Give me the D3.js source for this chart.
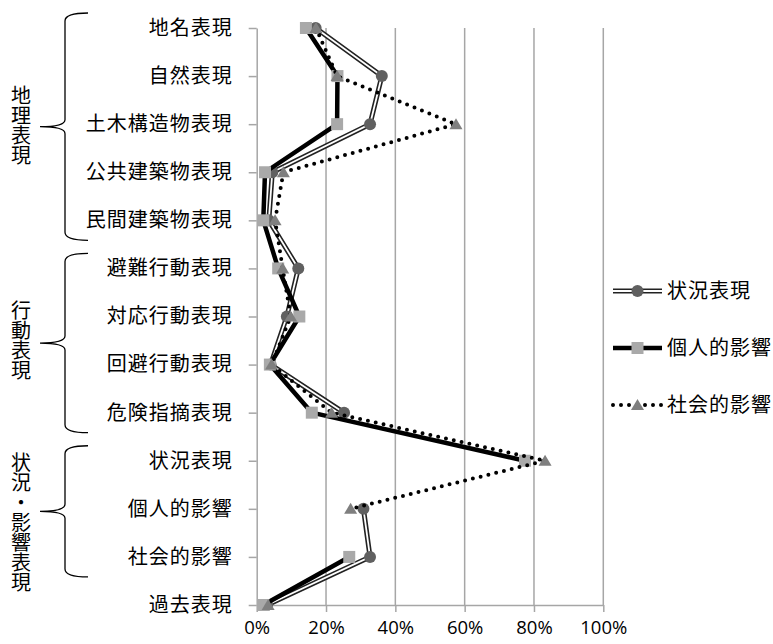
<!DOCTYPE html>
<html><head><meta charset="utf-8">
<script src="https://cdn.jsdelivr.net/npm/d3@7"></script>
<style>html,body{margin:0;padding:0;background:#fff;}</style>
</head><body>
<svg id="chart" width="773" height="644"></svg>
<script>
const categories = ["地名表現","自然表現","土木構造物表現","公共建築物表現","民間建築物表現","避難行動表現","対応行動表現","回避行動表現","危険指摘表現","状況表現","個人的影響","社会的影響","過去表現"];
const seriesNames = ["状況表現","個人的影響","社会的影響"];
const situationValues = [0.17,0.361,0.327,0.045,0.035,0.12,0.087,0.04,0.252,null,0.308,0.327,0.03];
const personalValues  = [0.142,0.233,0.232,0.024,0.019,0.062,0.123,0.038,0.159,0.774,null,0.267,0.019];
const socialValues    = [0.171,0.232,0.575,0.077,0.053,0.075,0.098,0.043,0.216,0.832,0.271,null,0.033];
const xTicks = [0,0.2,0.4,0.6,0.8,1.0];
const groupLabels = ["地理表現","行動表現","状況・影響表現"];
const groupFrom = ["地名表現","避難行動表現","状況表現"];
const groupTo = ["民間建築物表現","危険指摘表現","社会的影響"];

const svg = d3.select("#chart");
const CJK = "'Noto Sans CJK JP','Noto Sans',sans-serif";
const x = d3.scaleLinear().domain([0,1]).range([256.7,603.3]);
const y = d3.scalePoint().domain(categories).range([28,605]);
const gridColor = "#a6a6a6";

// gridlines
svg.append("g").selectAll("line").data(xTicks.slice(1)).join("line")
  .attr("x1",d=>x(d)).attr("x2",d=>x(d)).attr("y1",y.range()[0]).attr("y2",y.range()[1])
  .attr("stroke",gridColor).attr("stroke-width",1.5);

// left axis
const yAxis = svg.append("g").attr("transform",`translate(${x(0)},0)`)
  .call(d3.axisLeft(y).tickSize(8).tickPadding(16).tickSizeOuter(0));
yAxis.select(".domain").attr("stroke",gridColor).attr("stroke-width",1.5);
yAxis.selectAll(".tick line").attr("stroke",gridColor).attr("stroke-width",1.5);
yAxis.selectAll(".tick text").attr("font-family",CJK).attr("font-size",20).attr("fill","#000").attr("letter-spacing","1px");

// bottom axis
const xAxis = svg.append("g").attr("transform",`translate(0,${y.range()[1]})`)
  .call(d3.axisBottom(x).tickValues(xTicks).tickFormat(d3.format(".0%")).tickSize(7).tickPadding(9).tickSizeOuter(0));
xAxis.select(".domain").attr("stroke",gridColor).attr("stroke-width",1.5);
xAxis.selectAll(".tick line").attr("stroke",gridColor).attr("stroke-width",1.5);
xAxis.selectAll(".tick text").attr("font-family","'Open Sans','Noto Sans',sans-serif").attr("font-size",18.5).attr("fill","#000");

// series
const line = d3.line().defined(d=>d.v!=null).x(d=>x(d.v)).y(d=>y(d.c));
const toPts = vals => categories.map((c,i)=>({c, v: vals[i]}));
const styles = [
  {vals: situationValues, marker:"circle", fill:"#606060"},
  {vals: personalValues, marker:"square", fill:"#a9a9a9"},
  {vals: socialValues, marker:"triangle", fill:"#7f7f7f"}
];
function drawLine(g, s, path){
  if (s.marker==="circle"){
    g.append("path").attr("d",path).attr("fill","none").attr("stroke","#222").attr("stroke-width",5).attr("stroke-linejoin","round");
    g.append("path").attr("d",path).attr("fill","none").attr("stroke","#fff").attr("stroke-width",1.8).attr("stroke-linejoin","round");
  } else if (s.marker==="square"){
    g.append("path").attr("d",path).attr("fill","none").attr("stroke","#000").attr("stroke-width",4.5).attr("stroke-linejoin","round");
  } else {
    g.append("path").attr("d",path).attr("fill","none").attr("stroke","#000").attr("stroke-width",4).attr("stroke-linecap","round").attr("stroke-dasharray","0 8");
  }
}
function drawMarker(g, s, cx, cy){
  if (s.marker==="circle"){
    g.append("circle").attr("cx",cx).attr("cy",cy).attr("r",6).attr("fill",s.fill);
  } else if (s.marker==="square"){
    g.append("rect").attr("x",cx-6).attr("y",cy-6).attr("width",12).attr("height",12).attr("fill",s.fill);
  } else {
    g.append("path").attr("d",`M${cx},${cy-6}L${cx+6.5},${cy+5}L${cx-6.5},${cy+5}Z`).attr("fill",s.fill);
  }
}
styles.forEach(s=>{
  const g = svg.append("g");
  const pts = toPts(s.vals);
  drawLine(g, s, line(pts));
  pts.filter(d=>d.v!=null).forEach(d=>drawMarker(g, s, x(d.v), y(d.c)));
});

// legend
const legendY = [291,348,405];
styles.forEach((s,i)=>{
  const g = svg.append("g");
  const ly = legendY[i];
  drawLine(g, s, `M613,${ly}L662,${ly}`);
  drawMarker(g, s, 637.5, ly);
  g.append("text").attr("x",667).attr("y",ly).attr("dy","0.35em")
    .attr("font-family",CJK).attr("font-size",20).attr("letter-spacing","1px").text(seriesNames[i]);
});

// group braces + labels
const braceX = 65, hookX = 88, noseX = 40;
const labelShift = [-1, -3, 11];
groupLabels.forEach((label,i)=>{
  const top = y(groupFrom[i]) - 15, bot = y(groupTo[i]) + 20;
  const mid = (top+bot)/2;
  const p = d3.path();
  p.moveTo(hookX, top);
  p.quadraticCurveTo(braceX, top, braceX, top+8);
  p.lineTo(braceX, mid-7);
  p.quadraticCurveTo(braceX, mid, noseX, mid);
  p.quadraticCurveTo(braceX, mid, braceX, mid+7);
  p.lineTo(braceX, bot-8);
  p.quadraticCurveTo(braceX, bot, hookX, bot);
  svg.append("path").attr("d",p.toString()).attr("fill","none").attr("stroke","#000").attr("stroke-width",1.3);
  svg.append("text").attr("x",21).attr("y", mid + labelShift[i])
    .attr("font-family",CJK).attr("font-size",20)
    .attr("writing-mode","vertical-rl").attr("text-anchor","middle")
    .text(label);
});
</script>
</body></html>
